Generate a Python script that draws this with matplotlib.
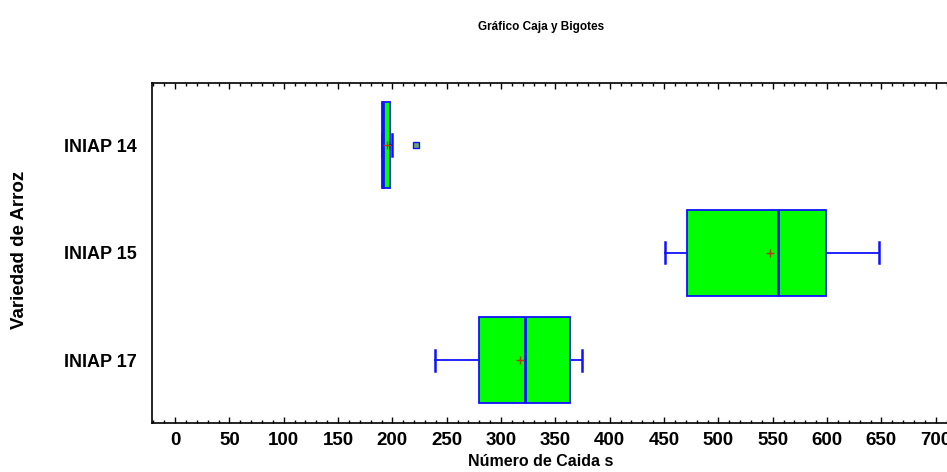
"""
Box and whisker chart of falling number by rice variety
"""
import matplotlib
matplotlib.use('Agg')
import matplotlib.pyplot as plt
import matplotlib.ticker as ticker

plt.rcParams['font.family'] = ['Liberation Sans', 'DejaVu Sans']
plt.rcParams['font.weight'] = 'bold'

varieties = ['INIAP 14', 'INIAP 15', 'INIAP 17']
q1 = [190.5, 470.7, 279.4]
medians = [191.0, 554.9, 322.1]
q3 = [198.0, 598.7, 363.8]
whis_lo = [190.5, 450.9, 239.3]
whis_hi = [199.5, 648.1, 374.5]
means = [195.0, 547.2, 317.5]
outliers = [[221.5], [], []]

xticks = list(range(0, 701, 50))

stats = []
for i in range(len(varieties)):
    stats.append(dict(label=varieties[i], q1=q1[i], med=medians[i], q3=q3[i],
                      whislo=whis_lo[i], whishi=whis_hi[i], mean=means[i],
                      fliers=outliers[i]))

fig = plt.figure(figsize=(9.47, 4.72), dpi=100)
x0, x1 = -21.2, 730
px_per = 1.0867
left = 152 / 947
width = (x1 - x0) * px_per / 947
ax = fig.add_axes([left, 1 - 422.7 / 472, width, 340 / 472])

pos = [3, 2, 1]
blue = '#1010ff'
ax.bxp(stats, positions=pos, vert=False, widths=0.8, showmeans=True,
       patch_artist=True,
       boxprops=dict(facecolor='#00ff00', edgecolor=blue, linewidth=1.3),
       medianprops=dict(color=blue, linewidth=2),
       whiskerprops=dict(color=blue, linewidth=1.3),
       capprops=dict(color=blue, linewidth=1.8),
       capwidths=0.2,
       meanprops=dict(marker='+', markeredgecolor='#b03a1a', markersize=6,
                      markeredgewidth=1),
       flierprops=dict(marker='s', markerfacecolor='#6aa86a',
                       markeredgecolor=blue, markersize=4, markeredgewidth=1))

ax.set_xlim(x0, x1)
ax.set_ylim(2 - 1.58, 2 + 1.58)
ax.set_xticks(xticks)
ax.xaxis.set_minor_locator(ticker.MultipleLocator(10))
ax.tick_params(axis='x', which='major', direction='in', length=4.5, width=1,
               top=True, pad=6.5, labelsize=13.5)
ax.tick_params(axis='x', which='minor', direction='in', length=2.2, width=1,
               top=True)
ax.tick_params(axis='y', length=0, pad=11, labelsize=13)
ax.set_yticks(pos)
ax.set_yticklabels(varieties)
for s in ax.spines.values():
    s.set_linewidth(1.2)
ax.spines['right'].set_visible(False)

fig.text(541 / 947, 1 - 27 / 472, 'Gráfico Caja y Bigotes', ha='center',
         va='center', fontsize=8.5, fontweight='bold')
fig.text(541 / 947, 1 - 462 / 472, 'Número de Caida s', ha='center',
         va='center', fontsize=11.5, fontweight='bold')
fig.text(20 / 947, 1 - 250 / 472, 'Variedad de Arroz', ha='center',
         va='center', rotation=90, fontsize=13.5, fontweight='bold')

fig.savefig('out.png', dpi=100)
